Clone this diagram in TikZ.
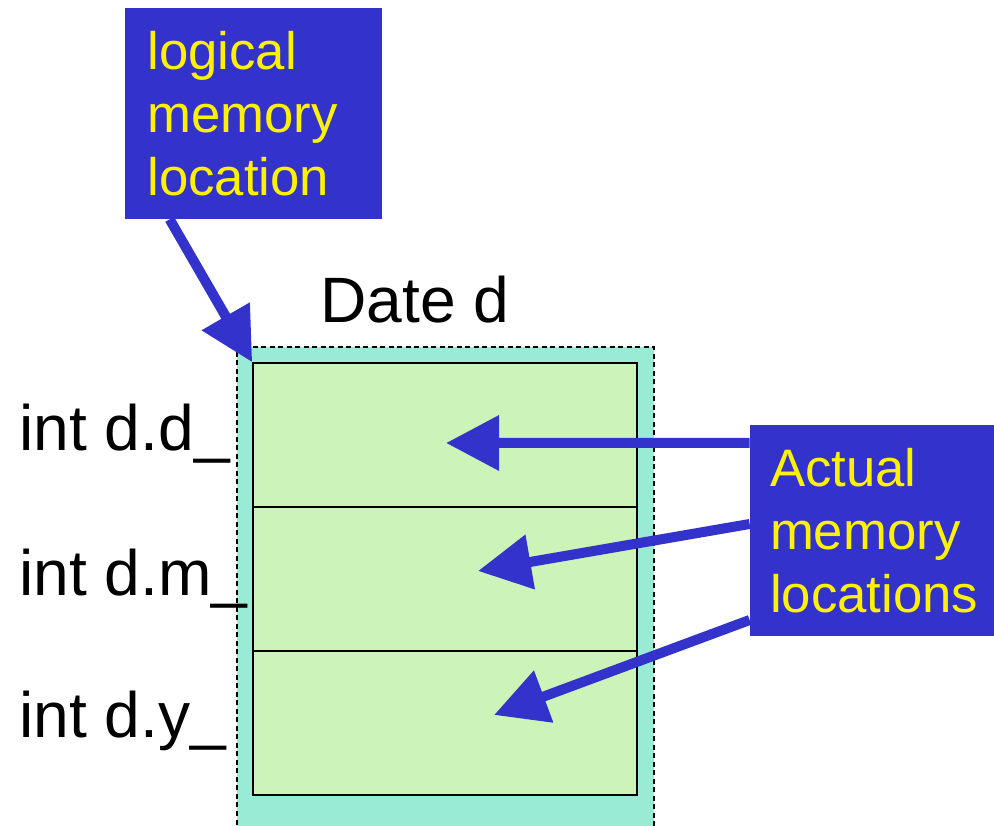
\documentclass[tikz,border=0pt]{standalone}
\usepackage{fontspec}
\setmainfont{Liberation Sans}
\usetikzlibrary{arrows.meta}

\definecolor{boxblue}{RGB}{51,51,204}
\definecolor{frameteal}{RGB}{154,235,213}
\definecolor{cellgreen}{RGB}{204,244,184}

\begin{document}
\begin{tikzpicture}[
		membox/.style = {
			rectangle,
			fill = boxblue,
			text = yellow,
			align = left,
			inner ysep = 0pt,
			minimum height = 4.22cm,
			font = \fontsize{30}{36}\selectfont
		},
		cell/.style = {
			rectangle,
			draw,
			line width = 0.9pt,
			fill = cellgreen,
			minimum width = 7.68cm,
			minimum height = 2.88cm,
			inner sep = 0pt
		},
		varname/.style = {
			anchor = base west,
			inner sep = 0pt,
			font = \fontsize{36.5}{43}\selectfont
		},
		pointer/.style = {
			boxblue,
			line width = 0.2cm,
			-{Triangle[length=1.06cm,width=1.06cm]}
		}
	]
	\useasboundingbox (0,0) rectangle (19.88,16.5);
	\clip (0,0) rectangle (19.88,16.5);

	% the object d and its three members
	\filldraw[fill=frameteal, draw=black, line width=0.9pt,
		dash pattern=on 0.1cm off 0.07cm] (4.74,-0.5) rectangle (13.08,9.56);
	\node[varname] (title) at (6.4,10.04) {Date d};
	\node[cell] (dd) at (8.9,7.8)  {};
	\node[cell] (dm) at (8.9,4.92) {};
	\node[cell] (dy) at (8.9,2.04) {};
	\node[varname] (ld) at (0.38,7.48) {int d.d\_};
	\node[varname] (lm) at (0.38,4.6)  {int d.m\_};
	\node[varname] (ly) at (0.38,1.76) {int d.y\_};

	% callouts
	\node[membox, inner xsep=0.45cm, text width=4.24cm] (logic) at (5.07,14.23)
		{logical\\memory\\location};
	\node[membox, inner xsep=0.4cm, text width=4.2cm] (actual) at (17.5,5.89)
		{Actual\\memory\\locations};

	\draw[pointer] ([xshift=0.9cm]logic.south west) -- (dd.north west);
	\draw[pointer] ([yshift=1.75cm]actual.west) -- (8.92,7.64);
	\draw[pointer] ([yshift=0.13cm]actual.west) -- (9.56,5.08);
	\draw[pointer] ([yshift=-1.79cm]actual.west) -- (9.88,2.2);
\end{tikzpicture}
\end{document}
